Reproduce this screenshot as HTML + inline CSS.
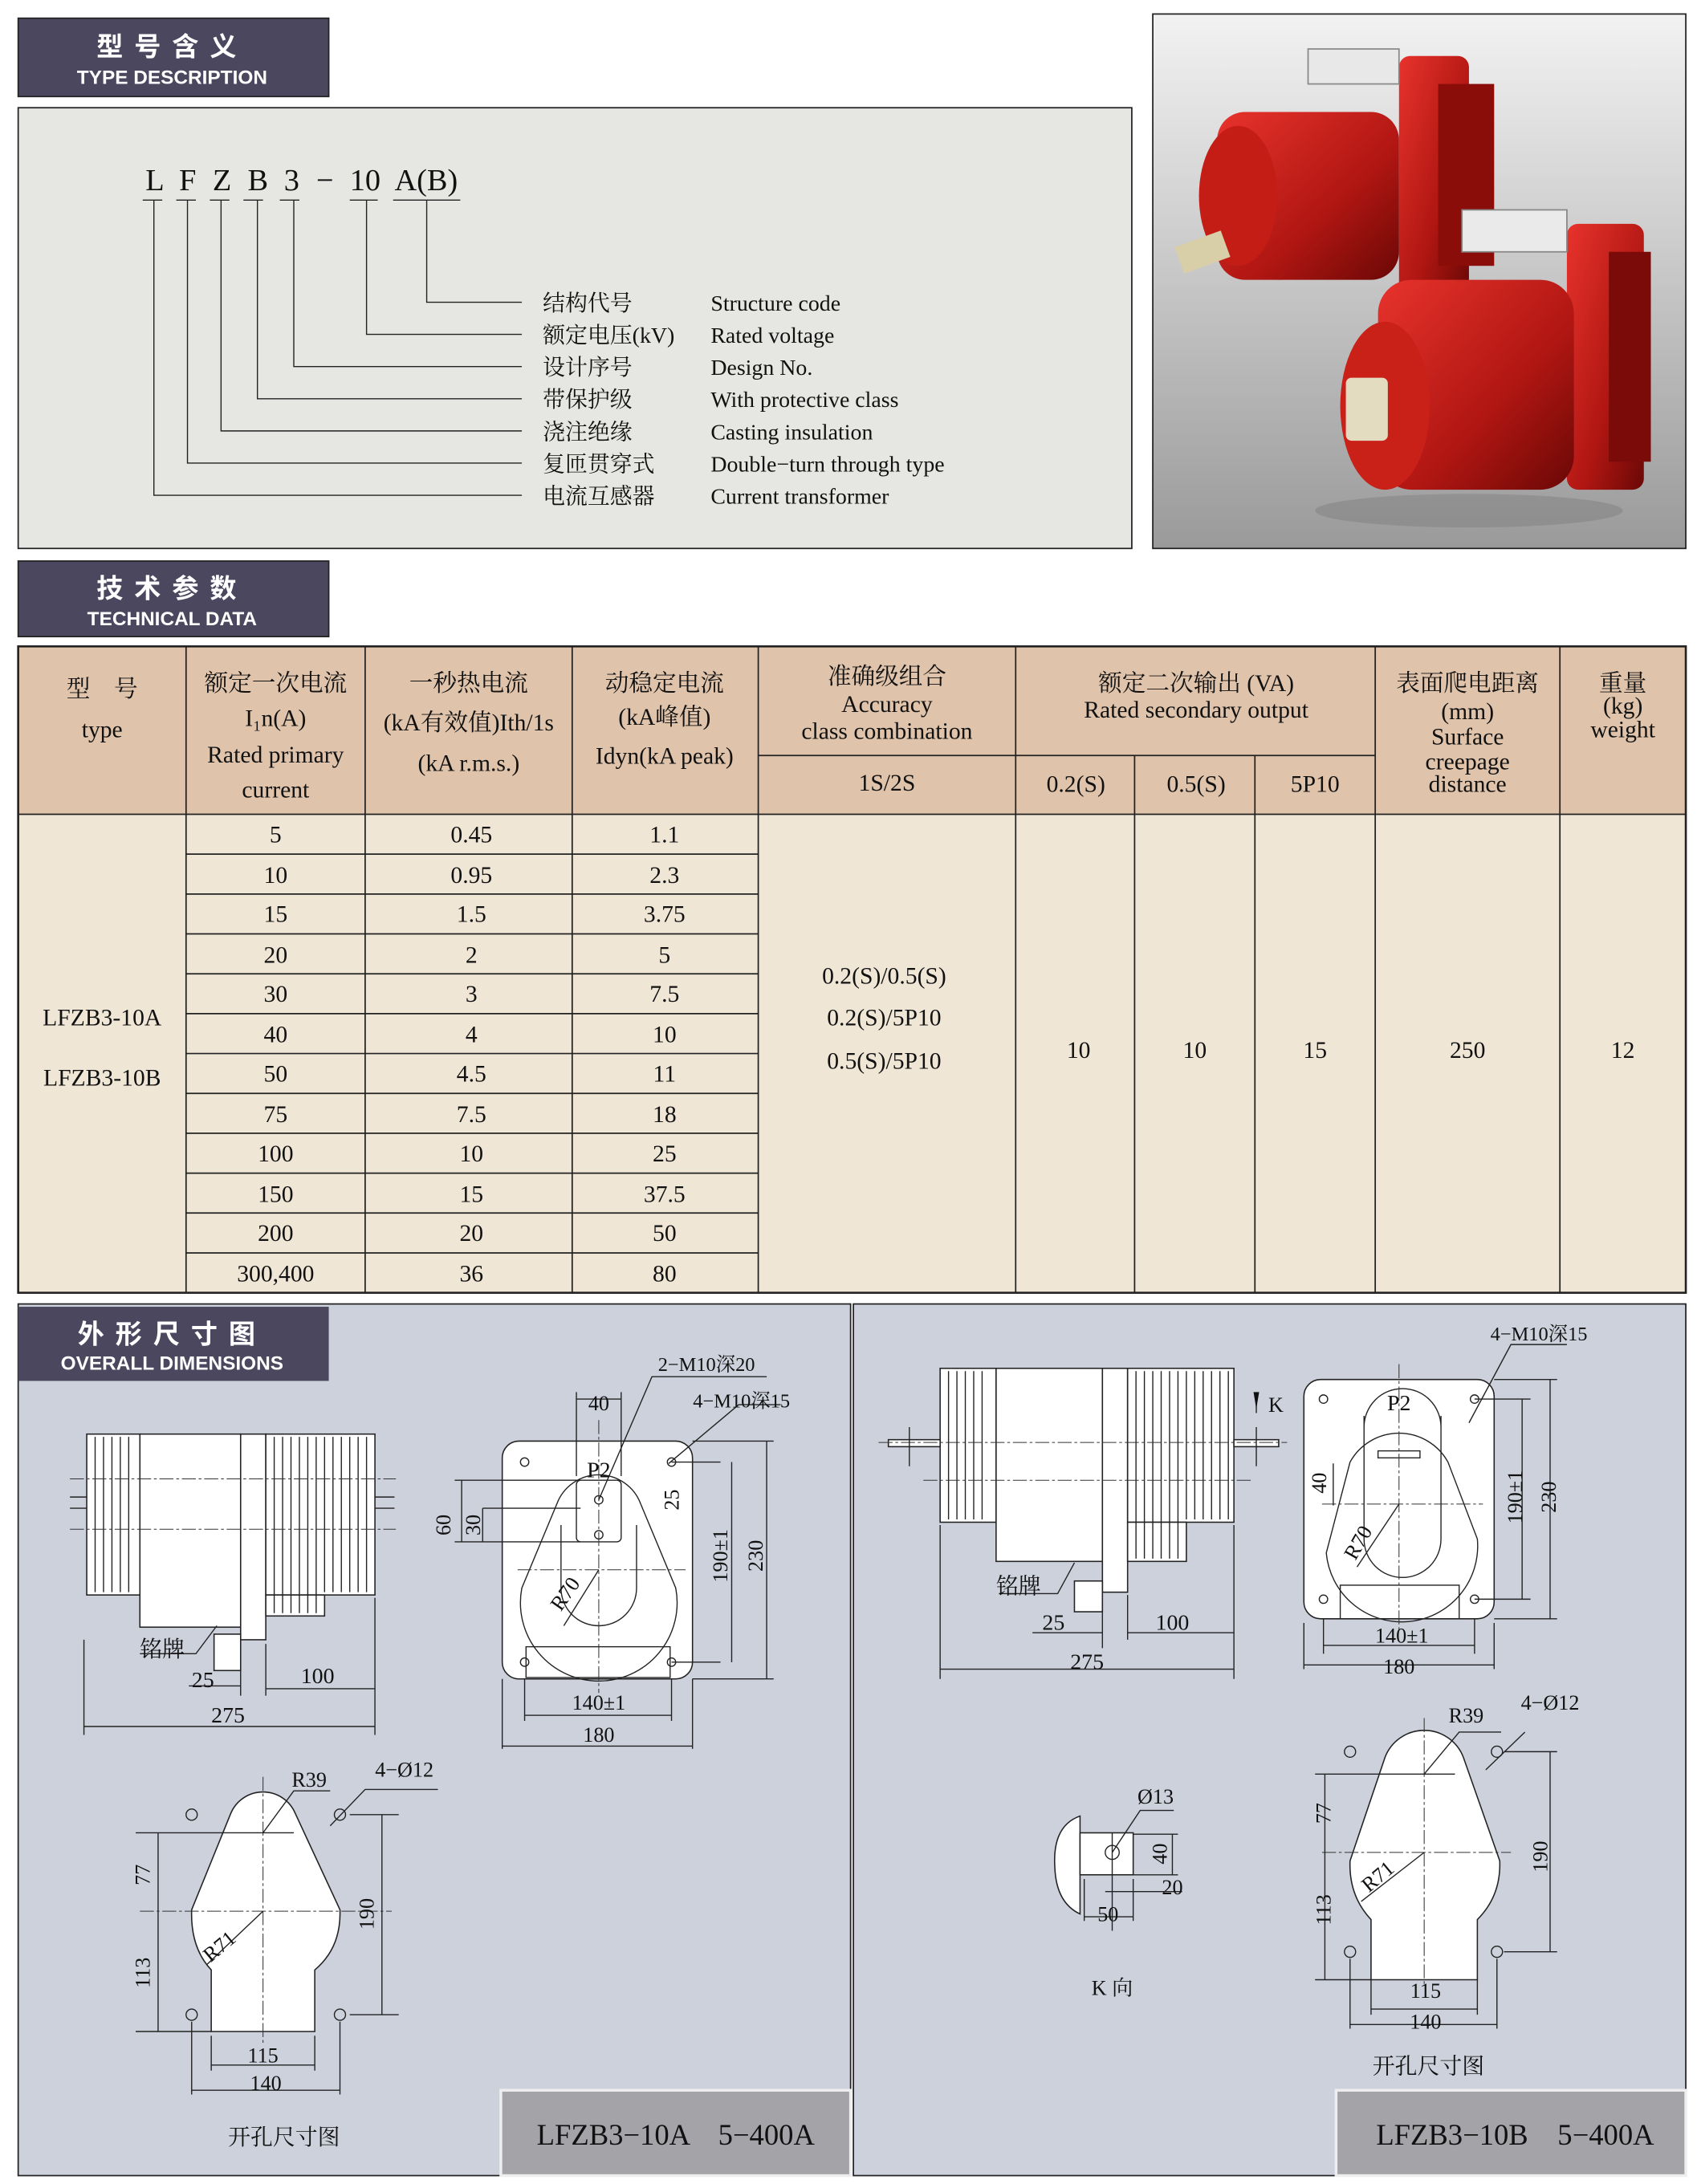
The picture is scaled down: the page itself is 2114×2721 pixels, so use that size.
<!DOCTYPE html>
<html><head><meta charset="utf-8"><style>
html,body{margin:0;padding:0;background:#fff}
svg{display:block}
.s{font-family:"Liberation Serif","Noto Serif CJK SC","Noto Sans CJK SC",serif;fill:#111}
.h{font-family:"Liberation Sans","Noto Sans CJK SC",sans-serif;fill:#fff;font-weight:bold}
.ln{stroke:#222;stroke-width:0.8;fill:none}
.cl{stroke:#333;stroke-width:0.6;fill:none;stroke-dasharray:10 2 2 2}
.w{fill:#fff;stroke:#222;stroke-width:0.9}
</style></head><body>
<svg width="2114" height="2721" viewBox="0 0 1213 1561" preserveAspectRatio="none" xmlns="http://www.w3.org/2000/svg">
<defs>
<linearGradient id="bg" x1="0" y1="0" x2="0" y2="1"><stop offset="0" stop-color="#f2f2f2"/><stop offset="1" stop-color="#9a9a9a"/></linearGradient>
<linearGradient id="rd" x1="0" y1="0" x2="1" y2="1"><stop offset="0" stop-color="#e8332c"/><stop offset="0.6" stop-color="#b01612"/><stop offset="1" stop-color="#6a0806"/></linearGradient>
</defs>
<rect width="1213" height="1561" fill="#fff"/>
<!-- headers -->
<rect x="13" y="13" width="222" height="56" fill="#4b475f" stroke="#222"/>
<text class="h" x="123" y="40" font-size="19" text-anchor="middle" letter-spacing="8">型号含义</text>
<text class="h" x="123" y="60" font-size="14" text-anchor="middle" font-weight="normal">TYPE DESCRIPTION</text>
<rect x="13" y="77" width="796" height="315" fill="#e6e7e2" stroke="#222"/>
<g class="s" font-size="22">
<text x="104" y="136">L</text><text x="128" y="136">F</text><text x="152" y="136">Z</text><text x="177" y="136">B</text><text x="203" y="136">3</text><text x="226" y="136">−</text><text x="250" y="136">10</text><text x="282" y="136">A(B)</text>
</g>
<g class="ln">
<path d="M102 143h14M126 143h14M150 143h14M174 143h14M200 143h14M250 143h20M281 143h48"/>
<path d="M110 143V354H373M134 143V331H373M158 143V308H373M184 143V285H373M210 143V262H373M262 143V239H373M305 143V216H373"/>
</g>
<g class="s" font-size="16">
<text x="388" y="222">结构代号</text><text x="388" y="245">额定电压(kV)</text><text x="388" y="268">设计序号</text><text x="388" y="291">带保护级</text><text x="388" y="314">浇注绝缘</text><text x="388" y="337">复匝贯穿式</text><text x="388" y="360">电流互感器</text>
<text x="508" y="222">Structure  code</text><text x="508" y="245">Rated  voltage</text><text x="508" y="268">Design  No.</text><text x="508" y="291">With  protective  class</text><text x="508" y="314">Casting  insulation</text><text x="508" y="337">Double−turn  through  type</text><text x="508" y="360">Current  transformer</text>
</g>
<!-- photo -->
<rect x="824" y="10" width="381" height="382" fill="url(#bg)" stroke="#222"/>
<g>
<rect x="1000" y="40" width="50" height="170" rx="8" fill="url(#rd)"/>
<rect x="1028" y="60" width="40" height="130" fill="#8a0d0a"/>
<ellipse cx="915" cy="140" rx="55" ry="60" fill="#a8120e"/>
<rect x="870" y="80" width="130" height="120" rx="20" fill="url(#rd)"/>
<ellipse cx="885" cy="140" rx="28" ry="50" fill="#c41d16"/>
<rect x="842" y="170" width="35" height="20" fill="#d8cfa8" transform="rotate(-20 860 180)"/>
<rect x="935" y="35" width="65" height="25" fill="#e8e8e8" stroke="#888"/>
<rect x="1120" y="160" width="55" height="190" rx="8" fill="url(#rd)"/>
<rect x="1150" y="180" width="30" height="150" fill="#7a0b08"/>
<rect x="985" y="200" width="140" height="150" rx="24" fill="url(#rd)"/>
<ellipse cx="990" cy="290" rx="32" ry="60" fill="#c92018"/>
<rect x="962" y="270" width="30" height="45" rx="4" fill="#e4dcc0"/>
<rect x="1045" y="150" width="75" height="30" fill="#eaeaea" stroke="#888"/>
<ellipse cx="1050" cy="365" rx="110" ry="12" fill="#777" opacity="0.4"/>
</g>
<rect x="13" y="401" width="222" height="54" fill="#4b475f" stroke="#222"/>
<text class="h" x="123" y="427" font-size="19" text-anchor="middle" letter-spacing="8">技术参数</text>
<text class="h" x="123" y="447" font-size="14" text-anchor="middle">TECHNICAL DATA</text>
<!-- table -->
<rect x="13" y="462" width="1192" height="120" fill="#dfc3aa"/>
<rect x="13" y="582" width="1192" height="342" fill="#efe6d6"/>
<g stroke="#222" stroke-width="1" fill="none">
<rect x="13" y="462" width="1192" height="462" stroke-width="1.5"/>
<path d="M13 582H1205M542 540H983"/>
<path d="M133 462V924M261 462V924M409 462V924M542 462V924M726 462V924M811 540V924M897 540V924M983 462V924M1115 462V924"/>
<path d="M133 610.5H542M133 639H542M133 667.5H542M133 696H542M133 724.5H542M133 753H542M133 781.5H542M133 810H542M133 838.5H542M133 867H542M133 895.5H542"/>
</g>
<g class="s" font-size="17" text-anchor="middle">
<text x="73" y="498">型　号</text><text x="73" y="527">type</text>
<text x="197" y="494">额定一次电流</text><text x="197" y="519">I₁n(A)</text><text x="197" y="545">Rated primary</text><text x="197" y="570">current</text>
<text x="335" y="494">一秒热电流</text><text x="335" y="522">(kA有效值)Ith/1s</text><text x="335" y="551">(kA r.m.s.)</text>
<text x="475" y="494">动稳定电流</text><text x="475" y="518">(kA峰值)</text><text x="475" y="546">Idyn(kA peak)</text>
<text x="634" y="489">准确级组合</text><text x="634" y="509">Accuracy</text><text x="634" y="528">class combination</text>
<text x="634" y="565">1S/2S</text>
<text x="855" y="494">额定二次输出 (VA)</text><text x="855" y="513">Rated secondary output</text>
<text x="769" y="566">0.2(S)</text><text x="855" y="566">0.5(S)</text><text x="940" y="566">5P10</text>
<text x="1049" y="494">表面爬电距离</text><text x="1049" y="514">(mm)</text><text x="1049" y="532">Surface</text><text x="1049" y="550">creepage</text><text x="1049" y="566">distance</text>
<text x="1160" y="494">重量</text><text x="1160" y="510">(kg)</text><text x="1160" y="527">weight</text>
</g>
<g class="s" font-size="17" text-anchor="middle">
<text x="73" y="733">LFZB3-10A</text><text x="73" y="776">LFZB3-10B</text>
<text x="632" y="703">0.2(S)/0.5(S)</text><text x="632" y="733">0.2(S)/5P10</text><text x="632" y="764">0.5(S)/5P10</text>
<text x="771" y="756">10</text><text x="854" y="756">10</text><text x="940" y="756">15</text><text x="1049" y="756">250</text><text x="1160" y="756">12</text>
<g id="c1"><text x="197" y="602">5</text><text x="197" y="631">10</text><text x="197" y="659">15</text><text x="197" y="688">20</text><text x="197" y="716">30</text><text x="197" y="745">40</text><text x="197" y="773">50</text><text x="197" y="802">75</text><text x="197" y="830">100</text><text x="197" y="859">150</text><text x="197" y="887">200</text><text x="197" y="916">300,400</text></g>
<text x="337" y="602">0.45</text><text x="337" y="631">0.95</text><text x="337" y="659">1.5</text><text x="337" y="688">2</text><text x="337" y="716">3</text><text x="337" y="745">4</text><text x="337" y="773">4.5</text><text x="337" y="802">7.5</text><text x="337" y="830">10</text><text x="337" y="859">15</text><text x="337" y="887">20</text><text x="337" y="916">36</text>
<text x="475" y="602">1.1</text><text x="475" y="631">2.3</text><text x="475" y="659">3.75</text><text x="475" y="688">5</text><text x="475" y="716">7.5</text><text x="475" y="745">10</text><text x="475" y="773">11</text><text x="475" y="802">18</text><text x="475" y="830">25</text><text x="475" y="859">37.5</text><text x="475" y="887">50</text><text x="475" y="916">80</text>
</g>
<!-- drawing panels -->
<rect x="13" y="932" width="595" height="623" fill="#cdd1dc" stroke="#222"/>
<rect x="610" y="932" width="595" height="623" fill="#cdd1dc" stroke="#222"/>
<rect x="13" y="934" width="222" height="53" fill="#4b475f"/>
<text class="h" x="123" y="960" font-size="19" text-anchor="middle" letter-spacing="8">外形尺寸图</text>
<text class="h" x="123" y="979" font-size="14" text-anchor="middle">OVERALL DIMENSIONS</text>
<rect x="358" y="1494" width="250" height="61" fill="#a3a3a8" stroke="#eee" stroke-width="2"/>
<text class="s" x="483" y="1533" font-size="21" text-anchor="middle">LFZB3−10A　5−400A</text>
<rect x="955" y="1494" width="250" height="61" fill="#a3a3a8" stroke="#eee" stroke-width="2"/>
<text class="s" x="1083" y="1533" font-size="21" text-anchor="middle">LFZB3−10B　5−400A</text>

<!-- LEFT side view -->
<g>
<rect class="w" x="62" y="1025" width="38" height="115"/>
<path class="ln" d="M68 1027v111M74 1027v111M80 1027v111M86 1027v111M92 1027v111"/>
<rect class="w" x="100" y="1025" width="72" height="138"/>
<rect class="w" x="172" y="1025" width="18" height="147"/>
<rect class="w" x="190" y="1025" width="78" height="115"/>
<rect class="w" x="190" y="1140" width="42" height="15"/>
<path class="ln" d="M196 1027v126M202 1027v126M208 1027v126M214 1027v126M220 1027v126M226 1027v126M232 1027v111M238 1027v111M244 1027v111M250 1027v111M256 1027v111M262 1027v111"/>
<rect class="w" x="153" y="1168" width="19" height="26"/>
<path class="cl" d="M50 1057H283M50 1093H283"/>
<path class="ln" d="M50 1070h12M50 1078h12M268 1070h14M268 1078h14"/>
<path class="ln" d="M60 1172V1240M268 1142V1240M190 1175V1212M172 1178V1212M135 1205H172M190 1207H268M60 1234H268M155 1162l-15 20H100"/>
<g class="s" font-size="16" text-anchor="middle"><text x="116" y="1184">铭牌</text><text x="145" y="1206">25</text><text x="227" y="1203">100</text><text x="163" y="1231">275</text></g>
</g>
<!-- LEFT front view -->
<g>
<rect class="w" x="359" y="1030" width="136" height="170" rx="12"/>
<path class="ln" d="M398 1075 A32 32 0 0 1 458 1075 L483 1135 A56 56 0 1 1 373 1135 Z"/>
<path class="ln" d="M401 1090 V1135 A27 27 0 0 0 455 1135 V1090"/>
<rect class="ln" x="412" y="1058" width="32" height="44" rx="3"/>
<rect class="ln" x="376" y="1177" width="103" height="22"/>
<g class="ln"><circle cx="375" cy="1045" r="3"/><circle cx="480" cy="1045" r="3"/><circle cx="375" cy="1188" r="3"/><circle cx="480" cy="1188" r="3"/><circle cx="428" cy="1072" r="3"/><circle cx="428" cy="1097" r="3"/></g>
<path class="cl" d="M428 1015V1210M370 1122H490"/>
<path class="ln" d="M412 995V1055M444 995V1055M412 1000h32M495 1030h58M480 1045h35M495 1200h58M480 1188h35M548 1030V1200M523 1045V1188M325 1058h90M345 1078h70M325 1102h90M330 1058v44M345 1078v24M359 1200v50M495 1200v50M375 1200v30M480 1200v30M375 1226h105M359 1248h136M428 1072l38-88h82M478 1046l50-42h30M428 1122l-25 40"/>
<g class="s" font-size="15" text-anchor="middle">
<text x="428" y="1008">40</text><text x="428" y="1056" font-size="16">P2</text>
<text x="505" y="980" font-size="14">2−M10深20</text><text x="530" y="1006" font-size="14">4−M10深15</text>
<text transform="translate(322 1090) rotate(-90)">60</text><text transform="translate(343 1090) rotate(-90)">30</text>
<text transform="translate(485 1072) rotate(-90)">25</text>
<text transform="translate(520 1112) rotate(-90)">190±1</text><text transform="translate(545 1112) rotate(-90)">230</text>
<text transform="translate(408 1142) rotate(-55)">R70</text>
<text x="428" y="1222">140±1</text><text x="428" y="1245">180</text>
</g>
</g>
<!-- LEFT cutout -->
<g>
<path class="w" d="M151 1452 V1408 Q136 1392 137 1365 L165 1296 A25 25 0 0 1 211 1296 L243 1365 Q244 1392 225 1408 V1452 Z"/>
<path class="cl" d="M188 1270V1460M100 1366H280"/>
<g class="ln"><circle cx="137" cy="1297" r="4"/><circle cx="243" cy="1297" r="4"/><circle cx="137" cy="1440" r="4"/><circle cx="243" cy="1440" r="4"/></g>
<path class="ln" d="M97 1310H210M97 1452H151M113 1310V1452M250 1297h35M250 1440h35M273 1297V1440M151 1455v25M225 1455v25M151 1476h74M137 1445v52M243 1445v52M137 1494h106M188 1310l22-30h26M236 1305l25-26h52M188 1366l-40 38"/>
<g class="s" font-size="15" text-anchor="middle">
<text x="221" y="1277">R39</text><text x="289" y="1270">4−Ø12</text>
<text transform="translate(107 1340) rotate(-90)">77</text><text transform="translate(107 1410) rotate(-90)">113</text><text transform="translate(267 1368) rotate(-90)">190</text>
<text transform="translate(160 1395) rotate(-40)">R71</text>
<text x="188" y="1474">115</text><text x="190" y="1494">140</text>
<text x="203" y="1533" font-size="16">开孔尺寸图</text>
</g>
</g>

<!-- RIGHT side view -->
<g>
<rect class="w" x="672" y="978" width="40" height="110"/>
<path class="ln" d="M678 980v106M684 980v106M690 980v106M696 980v106M702 980v106"/>
<rect class="w" x="712" y="978" width="76" height="138"/>
<rect class="w" x="788" y="978" width="18" height="160"/>
<rect class="w" x="806" y="978" width="76" height="110"/>
<rect class="w" x="806" y="1088" width="42" height="28"/>
<path class="ln" d="M812 980v134M818 980v134M824 980v134M830 980v134M836 980v134M842 980v134M848 980v106M854 980v106M860 980v106M866 980v106M872 980v106M878 980v106"/>
<rect class="w" x="768" y="1130" width="20" height="22"/>
<rect class="w" x="635" y="1029" width="37" height="5"/><rect class="w" x="882" y="1029" width="32" height="5"/>
<path class="cl" d="M628 1031H920M660 1058H895"/>
<path class="ln" d="M650 1020v28M898 1020v28M898 998v12M672 1090V1200M882 1090V1200M788 1145V1178M806 1140V1172M738 1167H788M806 1167H882M672 1193H882M768 1117l-12 22H714"/>
<path d="M896 995h4l-2 12z" fill="#111"/>
<g class="s" font-size="16" text-anchor="middle"><text x="912" y="1009" font-size="15">K</text><text x="728" y="1139">铭牌</text><text x="753" y="1165">25</text><text x="838" y="1165">100</text><text x="777" y="1193">275</text></g>
</g>
<!-- RIGHT front view -->
<g>
<rect class="w" x="932" y="986" width="136" height="171" rx="12"/>
<path class="ln" d="M965 1045 A40 40 0 0 1 1035 1045 L1056 1100 A52 52 0 1 1 948 1110 Z"/>
<path class="ln" d="M975 1012 V1080 M1030 1012 V1080 M975 1020 A27 27 0 0 1 1030 1020 M975 1080 V1100 A27 27 0 0 0 1030 1100 V1080"/>
<rect class="ln" x="985" y="1037" width="30" height="5"/>
<rect class="ln" x="958" y="1133" width="85" height="24"/>
<g class="ln"><circle cx="946" cy="1000" r="3"/><circle cx="1054" cy="1000" r="3"/><circle cx="946" cy="1143" r="3"/><circle cx="1054" cy="1143" r="3"/></g>
<path class="cl" d="M1000 975V1165M945 1075H1060"/>
<path class="ln" d="M1068 986h45M1054 1000h40M1068 1157h45M1054 1143h40M1108 986V1157M1088 1000V1143M946 1157v25M1054 1157v25M946 1176h108M932 1160v33M1068 1160v33M932 1190h136M953 1046v30M1000 1075l-30 45M1050 1017l30-56h40"/>
<g class="s" font-size="15" text-anchor="middle">
<text x="1100" y="958" font-size="14">4−M10深15</text><text x="1000" y="1008" font-size="16">P2</text>
<text transform="translate(948 1060) rotate(-90)">40</text>
<text transform="translate(1088 1070) rotate(-90)">190±1</text><text transform="translate(1112 1070) rotate(-90)">230</text>
<text transform="translate(975 1105) rotate(-60)">R70</text>
<text x="1002" y="1174">140±1</text><text x="1000" y="1196">180</text>
</g>
</g>
<!-- K view -->
<g>
<path class="w" d="M772 1298 Q752 1305 754 1335 Q755 1360 772 1368 Z"/>
<rect class="w" x="772" y="1310" width="38" height="30"/>
<circle class="ln" cx="795" cy="1324" r="5"/>
<path class="ln" d="M810 1311h32M810 1340h32M838 1311V1340M775 1343v30M810 1343v30M775 1370h35M790 1352h55M795 1324l20-30h24M795 1310V1380"/>
<g class="s" font-size="15" text-anchor="middle"><text x="826" y="1289">Ø13</text><text transform="translate(834 1325) rotate(-90)">40</text><text x="838" y="1354">20</text><text x="792" y="1373">50</text><text x="795" y="1426">K 向</text></g>
</g>
<!-- RIGHT cutout -->
<g>
<path class="w" d="M980 1415 V1372 Q964 1355 965 1330 L990 1256 A30 30 0 0 1 1046 1256 L1072 1330 Q1073 1355 1056 1372 V1415 Z"/>
<path class="cl" d="M1018 1228V1420M945 1324H1080"/>
<g class="ln"><circle cx="965" cy="1252" r="4"/><circle cx="1070" cy="1252" r="4"/><circle cx="965" cy="1395" r="4"/><circle cx="1070" cy="1395" r="4"/></g>
<path class="ln" d="M940 1268H1040M940 1415H980M947 1268V1415M1075 1252h38M1075 1395h38M1108 1252V1395M980 1415v25M1056 1415v25M980 1436h76M965 1400v50M1070 1400v50M965 1447h105M1018 1268l25-30h30M1062 1265l28-27M1018 1324l-45 35"/>
<g class="s" font-size="15" text-anchor="middle">
<text x="1048" y="1231">R39</text><text x="1108" y="1222">4−Ø12</text>
<text transform="translate(951 1296) rotate(-90)">77</text><text transform="translate(951 1365) rotate(-90)">113</text><text transform="translate(1106 1327) rotate(-90)">190</text>
<text transform="translate(988 1345) rotate(-40)">R71</text>
<text x="1019" y="1428">115</text><text x="1019" y="1450">140</text>
<text x="1021" y="1482" font-size="16">开孔尺寸图</text>
</g>
</g>
</svg>
</body></html>
